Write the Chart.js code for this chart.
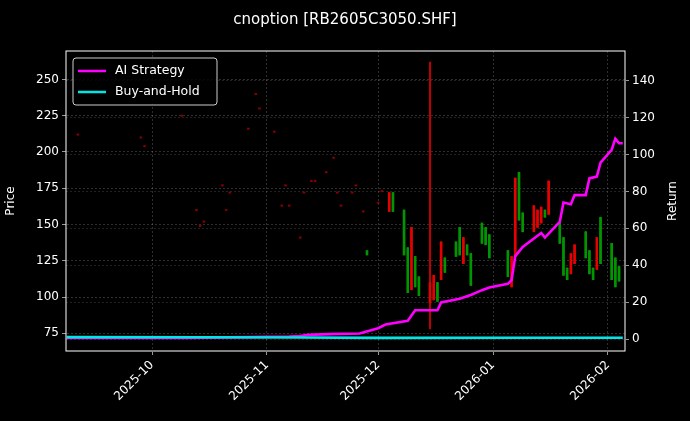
<!DOCTYPE html>
<html>
<head>
<meta charset="utf-8">
<script src="https://cdn.jsdelivr.net/npm/chart.js@4.4.1/dist/chart.umd.min.js"></script>
<style>
  html, body { margin: 0; padding: 0; background: #000; }
  #wrap { width: 690px; height: 421px; }
</style>
</head>
<body>
<div id="wrap"><canvas id="c"></canvas></div>
<script>
// candles: date, open, close, high, low
const candleDates = ['2025-09-11','2025-09-28','2025-09-29','2025-10-09','2025-10-13','2025-10-14','2025-10-15','2025-10-20','2025-10-21','2025-10-22','2025-10-27','2025-10-29','2025-10-30','2025-11-03','2025-11-05','2025-11-06','2025-11-07','2025-11-10','2025-11-11','2025-11-13','2025-11-14','2025-11-17','2025-11-19','2025-11-20','2025-11-21','2025-11-24','2025-11-25','2025-11-27','2025-11-28','2025-12-01','2025-12-02','2025-12-04','2025-12-05','2025-12-08','2025-12-09','2025-12-10','2025-12-11','2025-12-12','2025-12-15','2025-12-16','2025-12-17','2025-12-18','2025-12-19','2025-12-22','2025-12-23','2025-12-24','2025-12-25','2025-12-26','2025-12-29','2025-12-30','2025-12-31','2026-01-05','2026-01-06','2026-01-07','2026-01-08','2026-01-09','2026-01-12','2026-01-13','2026-01-14','2026-01-15','2026-01-16','2026-01-19','2026-01-20','2026-01-21','2026-01-22','2026-01-23','2026-01-26','2026-01-27','2026-01-28','2026-01-29','2026-01-30','2026-02-02','2026-02-03','2026-02-04'];
const candleOpen  = [212,210,204,225,160,149,152,177,160,172,216,240,230,214,163,177,163,141,172,180,180,186,196,172,163,172,177,159,132,165,173,159,172,160,134,105,128,114,96,98,110,112,127,138,148,123,136,130,151,148,143,132,107,128,186,158,145,148,151,160,157,151,141,120,116,123,145,132,120,119,155,137,127,121];
const candleClose = [212,210,204,225,160,149,152,177,160,172,216,240,230,214,163,177,163,141,172,180,180,186,196,172,163,172,177,159,129,165,173,172,159,129,103,148,107,101,110,115,97,138,117,128,129,141,129,108,137,136,127,114,128,182,153,145,163,160,162,155,180,137,115,112,130,136,127,116,112,141,123,112,107,111];
const candleHigh  = [212,210,204,225,160,149,152,177,160,172,216,240,230,214,163,177,163,141,172,180,180,186,196,172,163,172,177,159,132,165,173,172,172,160,134,148,128,114,262,115,110,138,127,138,148,141,136,130,151,148,143,132,128,182,186,158,163,160,162,160,180,151,141,120,130,136,145,132,120,141,155,137,127,121];
const candleLow   = [212,210,204,225,160,149,152,177,160,172,216,240,230,214,163,177,163,141,172,180,180,186,196,172,163,172,177,159,129,165,173,159,159,129,103,105,107,101,78,98,97,112,117,128,129,123,129,108,137,136,127,114,107,128,153,145,145,148,151,155,157,137,115,112,116,123,127,116,112,119,123,112,107,111];

// returns (%)
const stratDates = ['2025-09-08','2025-10-10','2025-10-27','2025-11-07','2025-11-10','2025-11-12','2025-11-18','2025-11-26','2025-12-01','2025-12-03','2025-12-09','2025-12-11','2025-12-17','2025-12-18','2025-12-23','2025-12-26','2025-12-29','2025-12-31','2026-01-05','2026-01-06','2026-01-07','2026-01-09','2026-01-14','2026-01-15','2026-01-19','2026-01-20','2026-01-22','2026-01-23','2026-01-26','2026-01-27','2026-01-29','2026-01-30','2026-02-02','2026-02-03','2026-02-04','2026-02-05'];
const stratValues = [0.8,0.8,1.2,1.5,1.8,2.4,2.8,3.2,6,8,10,15.7,15.7,20,22,24,26.6,28,30,32,45,50,57.5,55,63.5,74,73,78,78,87,88,95.5,102.5,108.5,106,106];
const holdDates = ['2025-09-08','2025-10-15','2025-11-10','2025-12-01','2026-01-06','2026-02-05'];
const holdValues = [1.2,1.1,1.0,0.8,0.9,0.9];

const monthTicks = ['2025-10','2025-11','2025-12','2026-01','2026-02'];

const base = Date.UTC(2025, 8, 1);
function day(s) {
  const p = s.split('-').map(Number);
  return (Date.UTC(p[0], p[1] - 1, p[2] || 1) - base) / 86400000;
}
const tickDays = monthTicks.map(day);

const up = 'rgb(230,0,0)', down = 'rgb(0,150,0)';
const colors = candleDates.map((d, i) => {
  if (candleOpen[i] === candleClose[i] && candleHigh[i] === candleLow[i]) return 'rgba(170,0,0,0.7)';
  return candleClose[i] >= candleOpen[i] ? up : down;
});
const bodies = candleDates.map((d, i) => {
  let a = candleOpen[i], b = candleClose[i];
  if (a === b) { a -= 0.5; b += 0.5; }
  return { x: day(d), y: [a, b] };
});
const wicks = candleDates.map((d, i) => ({ x: day(d), y: [candleLow[i], candleHigh[i]] }));

const grid = { color: 'rgba(255,255,255,0.3)', tickColor: '#fff', tickLength: 4, lineWidth: 0.6, offset: false };
const border = { display: true, color: 'transparent', dash: [2, 2] };
const font = { size: 12, family: 'DejaVu Sans' };

// title, frame, axis label and legend drawn on top
const decor = {
  id: 'decor',
  afterDraw(chart) {
    const { ctx, chartArea: a } = chart;
    ctx.save();
    ctx.fillStyle = '#fff';
    ctx.font = '15px "DejaVu Sans"';
    ctx.textAlign = 'center';
    ctx.textBaseline = 'middle';
    ctx.fillText('cnoption [RB2605C3050.SHF]', 345, 20);
    ctx.save();
    ctx.translate(673, (a.top + a.bottom) / 2);
    ctx.rotate(-Math.PI / 2);
    ctx.font = '12px "DejaVu Sans"';
    ctx.fillText('Return', 0, 0);
    ctx.restore();
    ctx.strokeStyle = '#fff';
    ctx.lineWidth = 1;
    ctx.strokeRect(a.left, a.top, a.right - a.left, a.bottom - a.top);
    // legend
    const lx = a.left + 7, ly = a.top + 7;
    ctx.fillStyle = 'rgba(0,0,0,0.85)';
    ctx.strokeStyle = '#ccc';
    ctx.beginPath();
    ctx.roundRect(lx, ly, 144, 47, 3);
    ctx.fill(); ctx.stroke();
    const items = [['AI Strategy', '#ff00ff'], ['Buy-and-Hold', '#00e5e5']];
    ctx.font = '12.5px "DejaVu Sans"';
    ctx.textAlign = 'left';
    items.forEach((it, k) => {
      const y = ly + 13 + k * 21;
      ctx.strokeStyle = it[1];
      ctx.lineWidth = 2.5;
      ctx.beginPath(); ctx.moveTo(lx + 5, y); ctx.lineTo(lx + 33, y); ctx.stroke();
      ctx.fillStyle = '#fff';
      ctx.fillText(it[0], lx + 42, y);
    });
    ctx.restore();
  }
};

new Chart(document.getElementById('c'), {
  type: 'bar',
  data: {
    datasets: [
      { type: 'bar', data: wicks, backgroundColor: colors, barThickness: 1, grouped: false, yAxisID: 'y', order: 3 },
      { type: 'bar', data: bodies, backgroundColor: colors, barThickness: 2, grouped: false, yAxisID: 'y', order: 2 },
      { type: 'line', data: stratDates.map((d, i) => ({ x: day(d), y: stratValues[i] })), borderColor: '#ff00ff', borderWidth: 2.6, pointRadius: 0, yAxisID: 'y1', order: 1 },
      { type: 'line', data: holdDates.map((d, i) => ({ x: day(d), y: holdValues[i] })), borderColor: '#00e5e5', borderWidth: 2.6, pointRadius: 0, yAxisID: 'y1', order: 0 }
    ]
  },
  options: {
    responsive: true,
    maintainAspectRatio: false,
    animation: false,
    layout: { padding: { top: 51, left: 0, right: 0, bottom: 0 } },
    plugins: { legend: { display: false }, tooltip: { enabled: false } },
    scales: {
      x: {
        type: 'linear', min: 6.8, max: 157.6, offset: false,
        grid, border,
        afterBuildTicks: s => { s.ticks = tickDays.map(v => ({ value: v })); },
        afterFit: s => { s.height = 70; },
        ticks: {
          color: '#fff', font, maxRotation: 45, minRotation: 45,
          callback: v => monthTicks[tickDays.indexOf(v)] || ''
        }
      },
      y: {
        position: 'left', min: 62.8, max: 269.6,
        grid, border,
        afterBuildTicks: s => { s.ticks = [75,100,125,150,175,200,225,250].map(v => ({ value: v })); },
        afterFit: s => { s.width = 66; },
        title: { display: true, text: 'Price', color: '#fff', font },
        ticks: { color: '#fff', font }
      },
      y1: {
        position: 'right', min: -6.3, max: 155.9,
        grid: { ...grid, color: 'rgba(255,255,255,0.22)' }, border,
        afterBuildTicks: s => { s.ticks = [0,20,40,60,80,100,120,140].map(v => ({ value: v })); },
        afterFit: s => { s.width = 65; },
        ticks: { color: '#fff', font }
      }
    }
  },
  plugins: [decor]
});
</script>
</body>
</html>
